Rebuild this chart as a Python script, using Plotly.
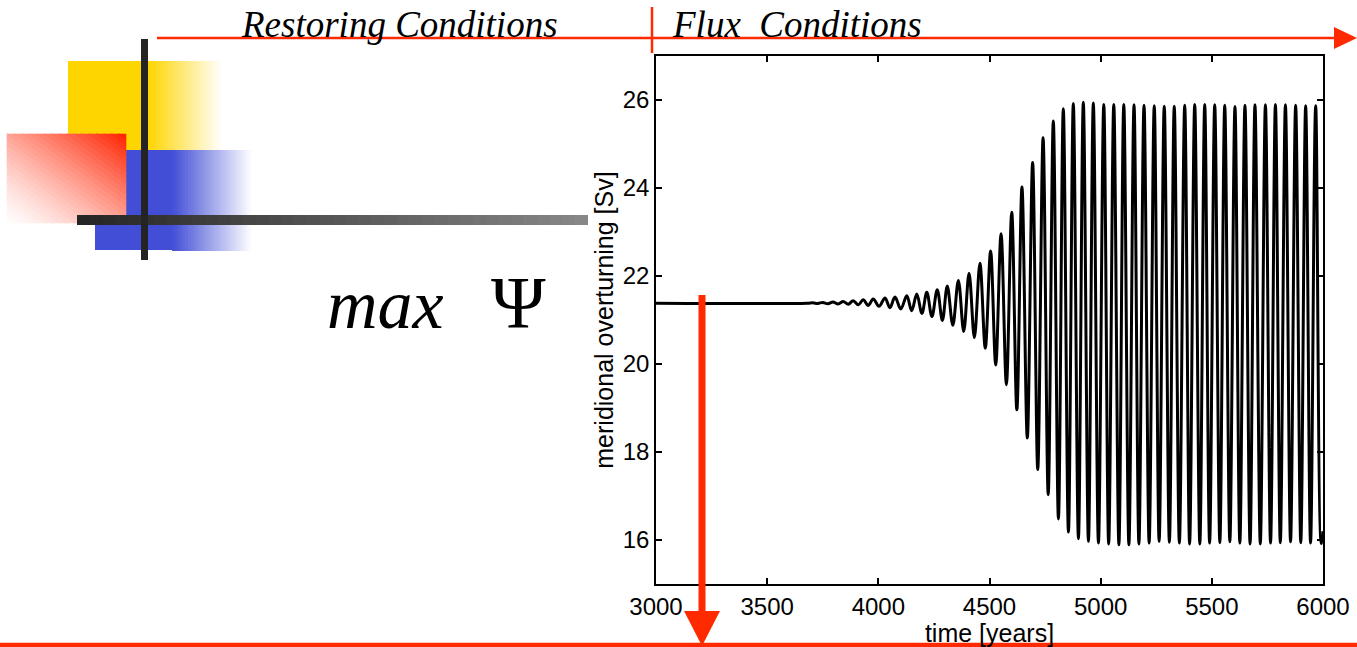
import plotly.graph_objects as go

# ---------------- data ----------------
baseline_years = [3000, 3680]
baseline_values = [21.38, 21.38]

peak_years = [3705, 3750, 3796, 3842, 3887, 3932, 3977, 4030, 4075, 4128,
              4173, 4218, 4265, 4310, 4360, 4408, 4457, 4505, 4552, 4600,
              4646, 4694, 4741, 4787, 4832, 4877, 4922, 4967, 5014, 5059,
              5104, 5150, 5195, 5241, 5286, 5331, 5378, 5423, 5468, 5513,
              5558, 5604, 5649, 5694, 5741, 5786, 5831, 5877, 5922, 5967]
peak_values = [21.39, 21.40, 21.41, 21.42, 21.44, 21.46, 21.48, 21.50, 21.52, 21.55,
               21.59, 21.63, 21.69, 21.77, 21.90, 22.06, 22.29, 22.57, 22.96, 23.45,
               24.02, 24.58, 25.14, 25.52, 25.80, 25.92, 25.95, 25.93, 25.90, 25.90,
               25.90, 25.89, 25.88, 25.87, 25.86, 25.86, 25.88, 25.90, 25.90, 25.89,
               25.88, 25.85, 25.88, 25.89, 25.89, 25.90, 25.89, 25.88, 25.87, 25.87]

trough_years = [3728, 3773, 3819, 3865, 3910, 3955, 4003, 4052, 4101, 4150,
                4196, 4241, 4288, 4335, 4384, 4432, 4481, 4528, 4576, 4623,
                4670, 4717, 4764, 4810, 4855, 4900, 4945, 4990, 5036, 5082,
                5127, 5172, 5218, 5263, 5309, 5354, 5400, 5446, 5490, 5536,
                5581, 5626, 5672, 5718, 5764, 5808, 5854, 5900, 5944, 5992]
trough_values = [21.375, 21.37, 21.365, 21.36, 21.345, 21.33, 21.31, 21.28, 21.25, 21.21,
                 21.15, 21.08, 20.99, 20.88, 20.74, 20.60, 20.36, 19.98, 19.53, 18.96,
                 18.32, 17.60, 17.03, 16.48, 16.18, 16.03, 15.97, 15.93, 15.91, 15.89,
                 15.89, 15.91, 15.93, 15.97, 15.95, 15.93, 15.91, 15.91, 15.93, 15.94,
                 15.96, 15.93, 15.91, 15.91, 15.93, 15.94, 15.96, 15.94, 15.93, 15.92]

end_years = [6000]
end_values = [16.2]

x_tick_values = [3000, 3500, 4000, 4500, 5000, 5500, 6000]
y_tick_values = [16, 18, 20, 22, 24, 26]

# merge all read points in time order
pts = sorted(zip(baseline_years + peak_years + trough_years + end_years,
                 baseline_values + peak_values + trough_values + end_values))
years = [p[0] for p in pts]
values = [p[1] for p in pts]

# ---------------- figure ----------------
W, H = 1357, 647
RED = "#FF2A00"


def fx(x):
    return x / W


def fy(y):
    return 1 - y / H


shapes = []


def rect(x0, y0, x1, y1, color):
    shapes.append(dict(type="rect", xref="paper", yref="paper",
                       x0=fx(x0), x1=fx(x1), y0=fy(y1), y1=fy(y0),
                       fillcolor=color, line=dict(width=0), layer="above"))


def lerp(c0, c1, t):
    return tuple(round(a + (b - a) * t) for a, b in zip(c0, c1))


def rgb(c):
    return "rgb(%d,%d,%d)" % c


def hgrad(x0, x1, y0, y1, c0, c1, n=30):
    for i in range(n):
        xa = x0 + (x1 - x0) * i / n
        xb = min(x1, x0 + (x1 - x0) * (i + 1) / n + 0.7)
        rect(xa, y0, xb, y1, rgb(lerp(c0, c1, (i + 0.5) / n)))


def clip(poly, f, c, keep_ge):
    out = []
    n = len(poly)
    for i in range(n):
        p, q = poly[i], poly[(i + 1) % n]
        fp, fq = f(p) - c, f(q) - c
        inp = fp >= 0 if keep_ge else fp <= 0
        inq = fq >= 0 if keep_ge else fq <= 0
        if inp:
            out.append(p)
        if inp != inq:
            t = fp / (fp - fq)
            out.append((p[0] + (q[0] - p[0]) * t, p[1] + (q[1] - p[1]) * t))
    return out


def path(poly, color, line_w=0):
    d = "M " + " L ".join("%.5f,%.5f" % (fx(x), fy(y)) for x, y in poly) + " Z"
    shapes.append(dict(type="path", xref="paper", yref="paper", path=d,
                       fillcolor=color, line=dict(width=line_w, color=color), layer="above"))


WHITE = (255, 255, 255)

# yellow square
rect(68, 61, 149, 150, "rgb(255,213,0)")
hgrad(148, 222, 61, 150, (255, 213, 0), WHITE)
# blue square
rect(95, 150, 173, 250, "rgb(66,78,214)")
hgrad(172, 252, 150, 251, (66, 78, 214), WHITE)
# red square with diagonal gradient
sx0, sy0, sx1, sy1 = 7, 134, 126, 223
square = [(sx0, sy0), (sx1, sy0), (sx1, sy1), (sx0, sy1)]
sfun = lambda p: ((p[0] - sx0) / (sx1 - sx0) + (sy1 - p[1]) / (sy1 - sy0)) / 2
nb = 32
for i in range(nb):
    a, b = i / nb, (i + 1) / nb + 0.004
    poly = clip(clip(square, sfun, a, True), sfun, b, False)
    if len(poly) >= 3:
        t = ((i + 0.5) / nb) ** 1.3
        path(poly, rgb(lerp((255, 253, 253), (255, 34, 0), t)), 0.6)
# horizontal dark bar with gradient
hgrad(77, 588, 215, 225, (36, 36, 36), (136, 136, 136), 40)
# vertical dark bar
rect(141, 39, 148, 260, "rgb(36,36,36)")

# red timeline lines and arrows
shapes.append(dict(type="line", xref="paper", yref="paper", x0=fx(157), x1=fx(1340),
                   y0=fy(38), y1=fy(38), line=dict(color=RED, width=2.5), layer="above"))
path([(1357, 38), (1334, 27), (1334, 49)], RED)
shapes.append(dict(type="line", xref="paper", yref="paper", x0=fx(652), x1=fx(652),
                   y0=fy(7), y1=fy(53), line=dict(color=RED, width=2.5), layer="above"))
shapes.append(dict(type="line", xref="paper", yref="paper", x0=fx(0), x1=fx(1357),
                   y0=fy(645), y1=fy(645), line=dict(color=RED, width=4.5), layer="above"))
shapes.append(dict(type="line", xref="paper", yref="paper", x0=fx(702), x1=fx(702),
                   y0=fy(295), y1=fy(615), line=dict(color=RED, width=7), layer="above"))
path([(684, 611), (720, 611), (702, 646)], RED)

annotations = [
    dict(text="<i>Restoring Conditions</i>", x=fx(239), y=fy(25), xanchor="left", yanchor="middle",
         font=dict(family="Liberation Serif", size=37, color="black")),
    dict(text="<i>Flux\u00a0 Conditions</i>", x=fx(670), y=fy(25), xanchor="left", yanchor="middle",
         font=dict(family="Liberation Serif", size=37, color="black")),
    dict(text="<i>max</i>", x=fx(385), y=fy(304), xanchor="center", yanchor="middle",
         font=dict(family="Liberation Serif", size=70, color="black")),
    dict(text="Ψ", x=fx(518), y=fy(303), xanchor="center", yanchor="middle",
         font=dict(family="Liberation Serif", size=74, color="black")),
]
for a in annotations:
    a.update(xref="paper", yref="paper", showarrow=False)

fig = go.Figure()
fig.add_trace(go.Scatter(x=years, y=values, mode="lines",
                         line=dict(color="black", width=3, shape="spline", smoothing=1),
                         hoverinfo="skip", showlegend=False))

tick_font = dict(family="Liberation Sans, Arial", size=24, color="black")
title_font = dict(family="Liberation Sans, Arial", size=25, color="black")
fig.update_layout(
    width=W, height=H, autosize=False,
    margin=dict(l=0, r=0, t=0, b=0, pad=0),
    paper_bgcolor="white", plot_bgcolor="white",
    showlegend=False,
    xaxis=dict(domain=[fx(656), fx(1323)], range=[3000, 6000], automargin=False,
               tickvals=x_tick_values, ticktext=[str(v) for v in x_tick_values],
               ticks="inside", ticklen=6, tickwidth=1.5, tickcolor="black",
               showline=True, linecolor="black", linewidth=1.5, mirror="ticks",
               showgrid=False, zeroline=False, tickfont=tick_font,
               title=dict(text="time [years]", font=title_font, standoff=1)),
    yaxis=dict(domain=[fy(584), fy(56)], range=[15, 27], automargin=False,
               tickvals=y_tick_values, ticktext=[str(v) for v in y_tick_values],
               ticks="inside", ticklen=6, tickwidth=1.5, tickcolor="black",
               showline=True, linecolor="black", linewidth=1.5, mirror="ticks",
               showgrid=False, zeroline=False, tickfont=tick_font,
               title=dict(text="meridional overturning [Sv]", font=title_font, standoff=2)),
    shapes=shapes,
    annotations=annotations,
)

fig.write_html("out.html", config={"displayModeBar": False},
               post_script="document.body.style.margin='0';document.body.style.overflow='hidden';")
